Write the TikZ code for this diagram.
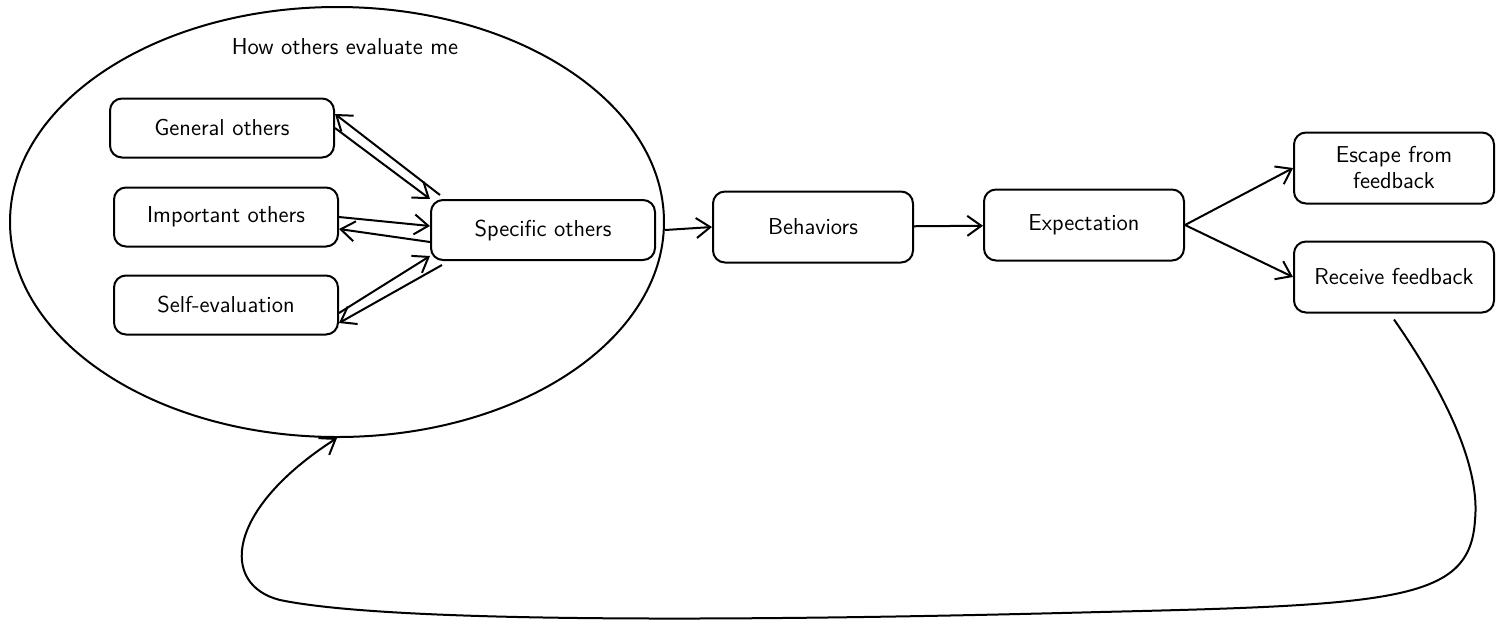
\documentclass[tikz,border=0pt]{standalone}
\usepackage{xcolor}
\usepackage{tikz}
\usetikzlibrary{shapes.geometric,arrows.meta}
\usetikzlibrary{positioning}

\begin{document}
\begin{tikzpicture}[x=0.5pt, y=-0.5pt, line width=1pt]
\tikzset{BoxStyle/.style = {shape=rectangle, rounded corners=6pt, draw, align=center, font=\sffamily\fontsize{11.5}{13}\selectfont}}
\tikzset{SmallBox/.style = {BoxStyle, minimum width=112pt, minimum height=29.5pt}}
\tikzset{WideBox/.style = {BoxStyle, minimum width=100pt, minimum height=35.5pt}}
\tikzset{EdgeStyle/.style = {-{Straight Barb[length=7pt, width=10pt]}}}
  \useasboundingbox (0,0) rectangle (1505,634);
  % group of evaluators
  \node[draw, ellipse, minimum width=327pt, minimum height=215pt] (grp) at (337,222) {};
  \node[font=\sffamily\fontsize{11.5}{13}\selectfont] (ttl) at (345,47) {How others evaluate me};
  \node[SmallBox] (gen) at (222,128) {General others};
  \node[SmallBox] (imp) at (226,217) {Important others};
  \node[SmallBox] (self) at (226,305) {Self-evaluation};
  \node[SmallBox, minimum height=30pt] (spe) at (543,230) {Specific others};
  % chain
  \node[WideBox] (beh) at (813,227) {Behaviors};
  \node[WideBox] (exp) at (1084,225) {Expectation};
  \node[WideBox] (esc) at (1394,168) {Escape from\\feedback};
  \node[WideBox] (rf) at (1394,277) {Receive feedback};

  \draw[EdgeStyle] ([xshift=5pt,yshift=2pt]spe.north west) -- ([yshift=7pt]gen.east);
  \draw[EdgeStyle] (gen.east) -- (spe.north west);
  \draw[EdgeStyle] (imp.east) -- ([yshift=2pt]spe.west);
  \draw[EdgeStyle] ([yshift=-6pt]spe.west) -- ([yshift=-6pt]imp.east);
  \draw[EdgeStyle] ([yshift=-4pt]self.east) -- ([yshift=2.5pt]spe.south west);
  \draw[EdgeStyle] ([xshift=6pt,yshift=-2pt]spe.south west) -- ([yshift=-9pt]self.east);

  \draw[EdgeStyle] (grp.east |- spe.east) -- (beh.west);
  \draw[EdgeStyle] (beh) -- (exp);
  \draw[EdgeStyle] (exp.east) -- (esc.west);
  \draw[EdgeStyle] (exp.east) -- (rf.west);
  % feedback loop
  \draw[EdgeStyle] ([yshift=-3pt]rf.south) .. controls (1450,400) and (1480,470) .. (1475,520)
     .. controls (1470,600) and (1400,605) .. (1100,612)
     .. controls (800,620) and (400,625) .. (280,600)
     .. controls (220,585) and (225,510) .. (grp.south);
\end{tikzpicture}
\end{document}
